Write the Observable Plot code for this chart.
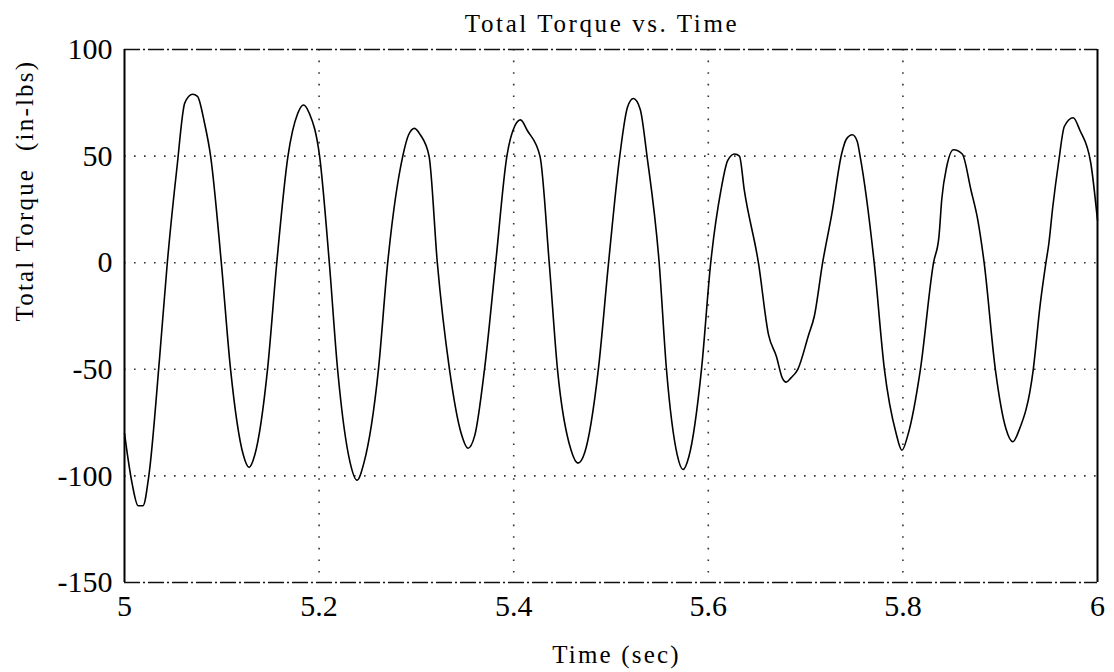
<!DOCTYPE html>
<html>
<head>
<meta charset="utf-8">
<script src="https://cdn.jsdelivr.net/npm/d3@7"></script>
<script src="https://cdn.jsdelivr.net/npm/@observablehq/plot@0.6"></script>
<style>
  html, body { margin: 0; padding: 0; background: #fff; }
  #wrap { width: 1114px; height: 672px; position: relative; overflow: hidden; }
  #title { position: relative; height: 24px; width: 1114px; z-index: 2; }
  #title span {
    position: absolute; left: 602px; top: 11px; transform: translateX(-50%);
    font-family: "Liberation Serif", "DejaVu Serif", serif; font-size: 25px;
    line-height: 25px; letter-spacing: 2.6px; white-space: nowrap; color: #000;
  }
  #chart { position: relative; z-index: 1; }
  .chart text { font-family: "Liberation Serif", "DejaVu Serif", serif; }
  .chart g[aria-label="text"] text { letter-spacing: 2.2px; }
  .chart .ylab text { letter-spacing: 1.4px; }
</style>
</head>
<body>
<div id="wrap">
  <div id="title"><span>Total Torque vs. Time</span></div>
  <div id="chart"></div>
</div>
<script>
// ---- data ----
const titleText = "Total Torque vs. Time";
const xLabel = "Time (sec)";
const yLabel = "Total Torque  (in-lbs)";

const xTicks = [5, 5.2, 5.4, 5.6, 5.8, 6];
const yTicks = [-150, -100, -50, 0, 50, 100];
const gridX = [5.2, 5.4, 5.6, 5.8];
const gridY = [-100, -50, 0, 50];

const time = [
  5.000, 5.003, 5.008, 5.014, 5.019, 5.025, 5.036, 5.044, 5.054, 5.062,
  5.070, 5.075, 5.082, 5.0885, 5.0995, 5.109, 5.122, 5.128, 5.134, 5.147,
  5.1565, 5.168, 5.178, 5.184, 5.190, 5.2005, 5.2105, 5.219, 5.232, 5.239,
  5.246, 5.261, 5.2705, 5.286, 5.292, 5.298, 5.304, 5.313, 5.3215, 5.334,
  5.346, 5.353, 5.360, 5.370, 5.3815, 5.393, 5.401, 5.407, 5.414, 5.427,
  5.4365, 5.445, 5.459, 5.466, 5.473, 5.487, 5.4975, 5.509, 5.517, 5.523,
  5.530, 5.537, 5.5495, 5.557, 5.568, 5.574, 5.580, 5.593, 5.6025, 5.613,
  5.620, 5.627, 5.632, 5.637, 5.6515, 5.662, 5.670, 5.676, 5.680, 5.685,
  5.692, 5.703, 5.709, 5.7175, 5.727, 5.737, 5.742, 5.748, 5.753, 5.756,
  5.7705, 5.781, 5.793, 5.799, 5.805, 5.818, 5.8315, 5.837, 5.840, 5.845,
  5.852, 5.861, 5.870, 5.877, 5.8835, 5.895, 5.906, 5.913, 5.919, 5.934,
  5.941, 5.947, 5.950, 5.954, 5.960, 5.966, 5.975, 5.982, 5.993, 6.000
];
const torque = [
  -80, -90, -104, -114, -114, -100, -45, 0, 45, 75,
  79, 78, 66, 50, 0, -50, -90, -96, -90, -50,
  0, 50, 70, 74, 70, 50, 0, -50, -94, -102,
  -94, -50, 0, 50, 60, 63, 60, 50, 0, -50,
  -80, -87, -81, -50, 0, 50, 64, 67, 62, 50,
  0, -50, -88, -94, -89, -50, 0, 50, 73, 77,
  72, 50, 0, -50, -90, -97, -91, -50, 0, 34,
  48, 51, 50, 34, 0, -34, -44, -54, -56, -54,
  -50, -34, -25, 0, 23, 51, 58, 60, 57, 50,
  0, -50, -80, -88, -81, -50, 0, 12, 30, 45,
  53, 51, 34, 20, 0, -50, -78, -84, -79, -50,
  -20, 0, 9, 26, 47, 64, 68, 62, 47, 20
];

const data = time.map((t, i) => ({t, v: torque[i]}));

const serif = '"Liberation Serif", "DejaVu Serif", serif';

const chart = Plot.plot({
  className: "chart",
  width: 1114,
  height: 648,
  marginTop: 25,
  marginBottom: 90,
  marginLeft: 124,
  marginRight: 17,
  style: {fontFamily: serif, fontSize: "30px", color: "#000", background: "transparent", overflow: "visible"},
  x: {domain: [5, 6], ticks: xTicks, tickFormat: d => String(d), tickSize: 0, tickPadding: 12, label: null},
  y: {domain: [-150, 100], ticks: yTicks, tickFormat: d => String(d), tickSize: 0, tickPadding: 12, label: null},
  marks: [
    Plot.ruleY(gridY, {stroke: "#333", strokeWidth: 1.6, strokeDasharray: "1.6,8.4"}),
    Plot.ruleX(gridX, {stroke: "#333", strokeWidth: 1.6, strokeDasharray: "1.6,10"}),
    Plot.ruleY([100, -150], {stroke: "#111", strokeWidth: 1.6, strokeDasharray: "16,3,2,3"}),
    Plot.ruleX([5, 6], {stroke: "#000", strokeWidth: 2}),
    Plot.line(data, {x: "t", y: "v", curve: "monotone-x", stroke: "#000", strokeWidth: 1.6}),
    Plot.text([xLabel], {text: d => d, frameAnchor: "bottom", lineAnchor: "middle", dy: 72, dx: 5.5, fontSize: 25, fontFamily: serif, fill: "#000"}),
    Plot.text([yLabel], {text: d => d, frameAnchor: "left", lineAnchor: "middle", rotate: -90, dx: -100, dy: 5.5, fontSize: 25, fontFamily: serif, fill: "#000", className: "ylab"})
  ]
});
document.getElementById("chart").appendChild(chart);
</script>
</body>
</html>
